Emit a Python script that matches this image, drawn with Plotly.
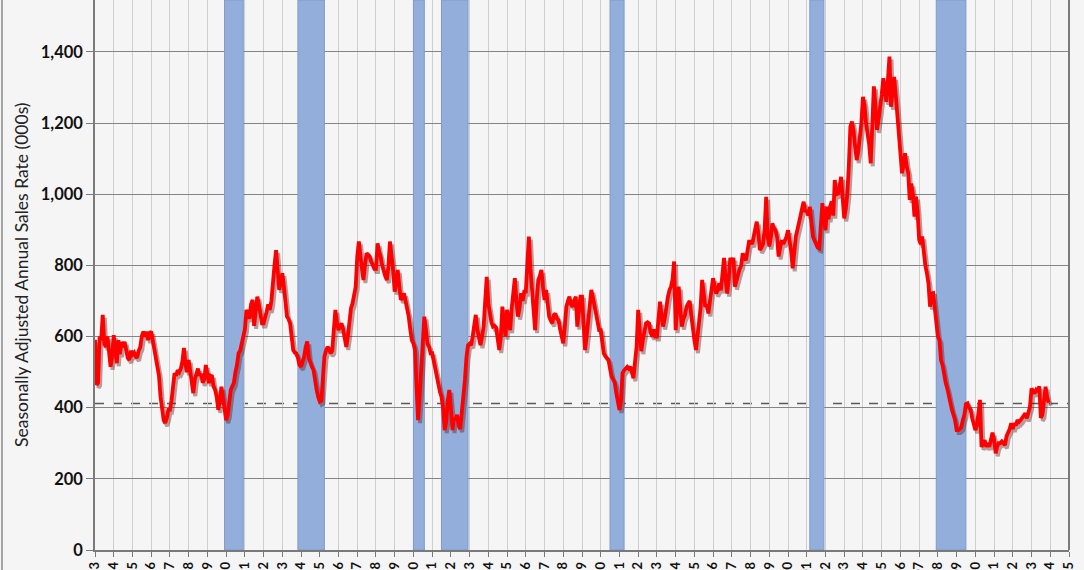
import pandas as pd
import plotly.graph_objects as go

# New home sales, SAAR (000s), monthly Jan 1963 - Dec 2013
sales = [
    591, 464, 470, 600, 590, 661, 580, 571, 600, 560, 515, 543,  # 1963
    604, 560, 525, 590, 550, 585, 570, 585, 560, 540, 534, 560,  # 1964
    550, 555, 545, 540, 560, 570, 600, 614, 600, 614, 590, 610,  # 1965
    614, 590, 560, 543, 525, 490, 431, 400, 365, 357, 370, 394,  # 1966
    394, 420, 460, 497, 490, 505, 500, 510, 530, 568, 520, 500,  # 1967
    534, 500, 470, 441, 480, 500, 510, 490, 495, 470, 480, 520,  # 1968
    500, 469, 490, 488, 460, 450, 430, 394, 420, 459, 430, 400,  # 1969
    365, 380, 420, 450, 460, 470, 500, 520, 553, 560, 580, 600,  # 1970
    620, 675, 660, 650, 690, 703, 630, 680, 712, 690, 660, 637,  # 1971
    637, 650, 670, 690, 675, 700, 768, 800, 843, 780, 731, 750,  # 1972
    778, 740, 700, 656, 650, 637, 600, 562, 555, 553, 540, 520,  # 1973
    515, 530, 543, 570, 586, 540, 525, 515, 506, 470, 450, 430,  # 1974
    417, 420, 470, 543, 560, 571, 565, 553, 560, 620, 675, 640,  # 1975
    618, 630, 637, 620, 590, 571, 600, 656, 680, 693, 720, 740,  # 1976
    825, 867, 830, 797, 759, 800, 834, 830, 825, 810, 800, 790,  # 1977
    790, 862, 840, 825, 800, 780, 770, 759, 800, 867, 830, 787,  # 1978
    726, 760, 787, 740, 703, 710, 721, 700, 680, 656, 620, 590,  # 1979
    581, 562, 460, 365, 430, 506, 580, 656, 620, 580, 571, 553,  # 1980
    553, 530, 506, 480, 459, 445, 431, 400, 337, 360, 420, 450,  # 1981
    400, 337, 371, 365, 380, 350, 340, 380, 420, 478, 543, 576,  # 1982
    580, 576, 600, 640, 661, 620, 600, 576, 600, 628, 700, 768,  # 1983
    693, 660, 640, 628, 630, 625, 600, 562, 600, 684, 640, 600,  # 1984
    675, 650, 618, 680, 720, 764, 700, 656, 680, 722, 700, 726,  # 1985
    726, 800, 881, 790, 740, 680, 618, 700, 759, 770, 787, 740,  # 1986
    703, 731, 700, 656, 645, 637, 660, 665, 650, 646, 620, 600,  # 1987
    581, 630, 684, 700, 712, 690, 684, 700, 712, 628, 680, 712,  # 1988
    712, 640, 562, 600, 646, 690, 731, 710, 684, 660, 640, 618,  # 1989
    618, 590, 553, 545, 540, 534, 510, 487, 480, 470, 440, 420,  # 1990
    394, 420, 497, 505, 510, 515, 510, 515, 500, 483, 530, 571,  # 1991
    675, 620, 559, 590, 620, 637, 640, 637, 610, 600, 620, 600,  # 1992
    600, 640, 698, 660, 628, 650, 684, 710, 730, 740, 760, 811,  # 1993
    618, 700, 740, 680, 628, 650, 660, 684, 690, 700, 660, 618,  # 1994
    590, 562, 600, 620, 680, 759, 720, 684, 690, 665, 700, 740,  # 1995
    764, 740, 721, 730, 750, 730, 780, 821, 760, 721, 760, 821,  # 1996
    810, 821, 740, 760, 778, 790, 800, 834, 820, 815, 840, 867,  # 1997
    867, 860, 880, 900, 923, 890, 843, 850, 860, 900, 993, 880,  # 1998
    853, 880, 918, 905, 899, 880, 825, 850, 871, 860, 871, 880,  # 1999
    899, 870, 840, 792, 840, 881, 900, 927, 940, 960, 979, 950,  # 2000
    956, 940, 965, 920, 881, 870, 860, 850, 848, 900, 975, 930,  # 2001
    899, 965, 930, 965, 980, 940, 1040, 1000, 1002, 1020, 1049, 990,  # 2002
    932, 960, 1000, 1080, 1190, 1204, 1180, 1134, 1096, 1120, 1152, 1200,  # 2003
    1274, 1250, 1200, 1171, 1140, 1087, 1200, 1303, 1250, 1181, 1210, 1237,  # 2004
    1280, 1326, 1300, 1260, 1320, 1387, 1246, 1280, 1330, 1280, 1218, 1180,  # 2005
    1124, 1059, 1080, 1115, 1080, 1060, 984, 1030, 1000, 937, 993, 950,  # 2006
    872, 860, 881, 825, 800, 778, 750, 684, 721, 722, 675, 628,  # 2007
    600, 590, 534, 520, 487, 470, 455, 431, 410, 394, 380, 365,  # 2008
    337, 337, 340, 345, 365, 380, 410, 412, 400, 394, 370, 347,  # 2009
    337, 350, 380, 422, 290, 300, 309, 290, 300, 290, 318, 330,  # 2010
    310, 272, 290, 300, 300, 305, 300, 295, 320, 328, 340, 356,  # 2011
    340, 356, 350, 365, 360, 365, 370, 375, 384, 370, 390, 403,  # 2012
    454, 445, 440, 450, 445, 460, 371, 380, 420, 459, 430, 414,  # 2013
]
first_month = "1963-01-01"

# NBER recessions (start month, month after trough)
recession_start = ["1969-12-01", "1973-11-01", "1980-01-01", "1981-07-01", "1990-07-01", "2001-03-01", "2007-12-01"]
recession_end = ["1970-12-01", "1975-04-01", "1980-08-01", "1982-12-01", "1991-04-01", "2001-12-01", "2009-07-01"]

latest_level = 412  # dashed reference line

x_range = ["1963-01-01", "2015-01-01"]
y_range = [0, 1546]
y_ticks = [0, 200, 400, 600, 800, 1000, 1200, 1400]

dates = pd.date_range(first_month, periods=len(sales), freq="MS")

W, H = 1084, 570
ml, mr, mt, mb = 95, 15, 0, 20
plot_w = W - ml - mr
plot_h = H - mt - mb

# shadow offset: a couple of pixels right and down, done through a shifted overlay axis
span = pd.Timestamp(x_range[1]) - pd.Timestamp(x_range[0])
dx = span * (2.0 / plot_w)
dy = (y_range[1] - y_range[0]) * (3.0 / plot_h)
x_range_shadow = [pd.Timestamp(x_range[0]) - dx, pd.Timestamp(x_range[1]) - dx]
y_range_shadow = [y_range[0] + dy, y_range[1] + dy]

fig = go.Figure()
fig.add_trace(go.Scatter(x=dates, y=sales, mode="lines", xaxis="x2", yaxis="y2",
                         line=dict(color="rgba(90,20,20,0.4)", width=4), hoverinfo="skip", showlegend=False))
fig.add_trace(go.Scatter(x=dates, y=sales, mode="lines", xaxis="x3", yaxis="y3",
                         line=dict(color="#ff0000", width=3.8), name="New Home Sales", showlegend=False))

for s, e in zip(recession_start, recession_end):
    fig.add_shape(type="rect", xref="x", yref="y", x0=s, x1=e, y0=y_range[0], y1=y_range[1],
                  fillcolor="#93aedb", line=dict(color="#7f9bc9", width=1), layer="between")

fig.add_shape(type="line", xref="paper", yref="y", x0=0, x1=1, y0=latest_level, y1=latest_level,
              line=dict(color="#5a5a5a", width=1.6, dash="dash"), layer="between")

# right plot edge and left chart border
fig.add_shape(type="line", xref="paper", yref="paper", x0=1, x1=1, y0=0, y1=1,
              line=dict(color="#7a7a7a", width=2))
fig.add_shape(type="line", xref="paper", yref="paper", x0=(2 - ml) / plot_w, x1=(2 - ml) / plot_w,
              y0=-mb / plot_h, y1=1, line=dict(color="#8a8a8a", width=1.5))

fig.add_annotation(text="Seasonally Adjusted Annual Sales Rate (000s)", textangle=-90,
                   xref="paper", yref="paper", x=(21 - ml) / plot_w, y=0.5, showarrow=False,
                   xanchor="center", yanchor="middle",
                   font=dict(family="Lato", size=17.5, color="#222222"))

fig.update_layout(
    width=W, height=H,
    margin=dict(l=ml, r=mr, t=mt, b=mb),
    paper_bgcolor="#f5f5f5",
    plot_bgcolor="#f5f5f5",
    xaxis=dict(type="date", range=x_range, dtick="M12", tick0="1963-01-01", tickformat="%b-%y",
               tickangle=-90, tickfont=dict(family="Lato", size=13, weight="bold", color="#111111"),
               showgrid=True, gridcolor="#cfcfcf", gridwidth=1,
               showline=True, linecolor="#7a7a7a", linewidth=1.5,
               ticks="outside", ticklen=5, tickcolor="#7a7a7a", zeroline=False, automargin=False),
    yaxis=dict(range=y_range, tickvals=y_ticks, tickformat=",",
               tickfont=dict(family="Lato", size=16.5, weight="bold", color="#111111"),
               showgrid=True, gridcolor="#858585", gridwidth=1,
               showline=True, linecolor="#7a7a7a", linewidth=1.5,
               ticks="outside", ticklen=7, tickcolor="#7a7a7a", zeroline=False, automargin=False),
    xaxis2=dict(type="date", range=x_range_shadow, overlaying="x", anchor="y2", visible=False),
    yaxis2=dict(range=y_range_shadow, overlaying="y", anchor="x2", visible=False),
    xaxis3=dict(type="date", range=x_range, overlaying="x", anchor="y3", visible=False),
    yaxis3=dict(range=y_range, overlaying="y", anchor="x3", visible=False),
    showlegend=False,
)

# page body has a default margin; remove it so the chart fills the window from the corner
fig.write_html("out.html", config={"displayModeBar": False},
               post_script="document.body.style.margin='0';document.body.style.background='#f5f5f5';")
